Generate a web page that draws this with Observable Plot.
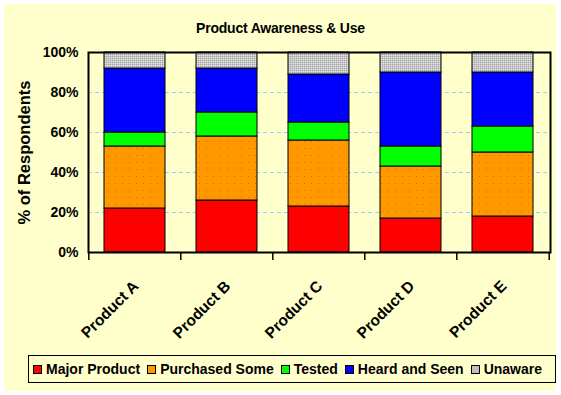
<!DOCTYPE html>
<html>
<head>
<meta charset="utf-8">
<script src="https://cdn.jsdelivr.net/npm/d3@7"></script>
<script src="https://cdn.jsdelivr.net/npm/@observablehq/plot@0.6"></script>
<style>
  html, body { margin: 0; padding: 0; background: #ffffff; }
  body { width: 561px; height: 395px; position: relative; overflow: hidden;
         font-family: "Liberation Sans", Arial, sans-serif; }
  #bg { position: absolute; left: 4px; top: 4px; width: 552px; height: 387px; background: #FFFFCC; }
  #title { position: absolute; left: 0; top: 20px; width: 561px; text-align: center;
           font-weight: bold; font-size: 14px; color: #000; letter-spacing: -0.2px; }
  #chart { position: absolute; left: 0; top: 40px; }
  #legend { position: absolute; left: 28px; top: 355px; width: 522px; height: 26px;
            border: 1px solid #000; background: #FFFFCC; display: flex; align-items: center;
            padding-left: 4px; box-sizing: content-box; }
  .item { display: flex; align-items: center; margin-right: 7px; font-weight: bold; font-size: 14px; }
  .sw { width: 7px; height: 7px; border: 1px solid #000; margin-right: 4px; }
</style>
</head>
<body>
<div id="bg"></div>
<div id="title">Product Awareness &amp; Use</div>
<div id="chart"></div>
<div id="legend"></div>
<script>
const products = ["Product A", "Product B", "Product C", "Product D", "Product E"];
const seriesNames = ["Major Product", "Purchased Some", "Tested", "Heard and Seen", "Unaware"];
const majorProduct  = [22, 26, 23, 17, 18];
const purchasedSome = [31, 32, 33, 26, 32];
const tested        = [7, 12, 9, 10, 13];
const heardAndSeen  = [32, 22, 24, 37, 27];
const unaware       = [8, 8, 11, 10, 10];
const yTicks = [0, 20, 40, 60, 80, 100];
const gridTicks = [20, 40, 60, 80];
const seriesColors = ["#FF0000", "#FF9900", "#00FF00", "#0000FF", "#C0C0C0"];
const seriesFills = ["#FF0000", "url(#patOrange)", "#00FF00", "#0000FF", "url(#patGray)"];

const seriesValues = [majorProduct, purchasedSome, tested, heardAndSeen, unaware];
const data = [];
products.forEach((p, i) => {
  seriesNames.forEach((s, j) => data.push({product: p, series: s, value: seriesValues[j][i]}));
});

const W = 561, H = 310, mL = 88, mR = 11, mT = 12, mB = 98;
const step = (W - mL - mR) / products.length;

const plot = Plot.plot({
  width: W, height: H,
  marginLeft: mL, marginRight: mR, marginTop: mT, marginBottom: mB,
  style: { background: "transparent", fontFamily: "'Liberation Sans', Arial, sans-serif", overflow: "visible" },
  x: { domain: products, paddingInner: 0.334, paddingOuter: 0.167, align: 0.5 },
  y: { domain: [0, 100] },
  color: { domain: seriesNames, range: seriesFills },
  marks: [
    Plot.gridY(gridTicks, { stroke: "#99CCFF", strokeOpacity: 1, strokeDasharray: "4,3", strokeWidth: 1 }),
    Plot.barY(data, { x: "product", y: "value", fill: "series", stroke: "#000", strokeWidth: 1 }),
    Plot.ruleX(products, { x: d => d, dx: -step / 2, y1: 0, y2: -4, stroke: "#000", strokeWidth: 1.5 }),
    Plot.ruleX(products.slice(-1), { x: d => d, dx: step / 2, y1: 0, y2: -4, stroke: "#000", strokeWidth: 1.5 }),
    Plot.axisY({ ticks: yTicks, tickFormat: d => d + "%", tickSize: 8, tickPadding: 2,
                 fontSize: 14, fontWeight: "bold", fill: "#000", stroke: null,
                 label: "% of Respondents", labelAnchor: "center", labelArrow: "none", labelOffset: 70 }),
    Plot.axisX({ tickSize: 0, tickRotate: -45, tickPadding: 31, dx: 1, fontSize: 15.5, fontWeight: "bold",
                 fill: "#000", label: null }),
    Plot.frame({ stroke: "#000", strokeWidth: 2 })
  ]
});

// patterns
const ns = "http://www.w3.org/2000/svg";
const defs = document.createElementNS(ns, "defs");
defs.innerHTML = `
  <pattern id="patOrange" patternUnits="userSpaceOnUse" width="7" height="7">
    <rect width="7" height="7" fill="#FF9900"></rect>
    <rect x="3" y="3" width="1" height="1" fill="#F06000"></rect>
  </pattern>
  <pattern id="patGray" patternUnits="userSpaceOnUse" width="2" height="2">
    <rect width="2" height="2" fill="#C8C8C8"></rect>
    <rect width="1" height="1" fill="#A8A8A8"></rect>
    <rect x="1" y="1" width="1" height="1" fill="#E0E0E0"></rect>
  </pattern>`;
plot.insertBefore(defs, plot.firstChild);
plot.querySelectorAll("[aria-label='y-axis label'] text").forEach(t => {
  t.setAttribute("font-size", 16.5); t.setAttribute("font-weight", "bold");
});
document.getElementById("chart").appendChild(plot);

const legend = document.getElementById("legend");
seriesNames.forEach((s, j) => {
  const it = document.createElement("div");
  it.className = "item";
  const sw = document.createElement("div");
  sw.className = "sw";
  sw.style.background = seriesColors[j];
  it.appendChild(sw);
  const tx = document.createElement("span");
  tx.textContent = s;
  it.appendChild(tx);
  legend.appendChild(it);
});
</script>
</body>
</html>
